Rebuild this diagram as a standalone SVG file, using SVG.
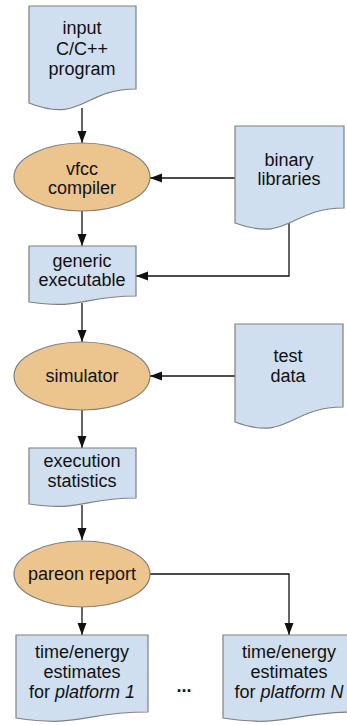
<svg xmlns="http://www.w3.org/2000/svg" width="347" height="725" viewBox="0 0 347 725">
<defs>
<style>
.doc{fill:#cfdff0;stroke:#808080;stroke-width:1.2}
.proc{fill:#ecc48e;stroke:#808080;stroke-width:1.2}
text{font-family:"Liberation Sans",Arial,sans-serif;font-size:18px;fill:#111;text-anchor:middle}
.edge{fill:none;stroke:#111;stroke-width:1.3}
</style>
<marker id="ah" markerUnits="userSpaceOnUse" markerWidth="13" markerHeight="10" refX="12" refY="4.5" orient="auto">
<path d="M0,0 L12,4.5 L0,9 Z" fill="#111"/>
</marker>
</defs>
<rect width="347" height="725" fill="#fff"/>
<g id="connectors">
<path class="edge" d="M82,108 V143" marker-end="url(#ah)"/>
<path class="edge" d="M235,178 H150" marker-end="url(#ah)"/>
<path class="edge" d="M82,211 V246" marker-end="url(#ah)"/>
<path class="edge" d="M289,222 V276 H136" marker-end="url(#ah)"/>
<path class="edge" d="M82,303 V342" marker-end="url(#ah)"/>
<path class="edge" d="M235,376 H150" marker-end="url(#ah)"/>
<path class="edge" d="M82,410 V448" marker-end="url(#ah)"/>
<path class="edge" d="M82,505 V540" marker-end="url(#ah)"/>
<path class="edge" d="M82,607 V635" marker-end="url(#ah)"/>
<path class="edge" d="M150,574 H289 V635" marker-end="url(#ah)"/>
</g>
<g id="input">
<path class="doc" d="M29,6 H136 V89 C82.5,89 82.5,124 29,103 Z"/>
<text x="82" y="34">input</text>
<text x="82" y="55">C/C++</text>
<text x="82" y="75">program</text>
</g>
<g id="vfcc">
<ellipse class="proc" cx="82" cy="177" rx="68" ry="34"/>
<text x="82" y="175">vfcc</text>
<text x="82" y="194">compiler</text>
</g>
<g id="binary">
<path class="doc" d="M235,126 H344 V208 C289.5,208 289.5,243 235,223 Z"/>
<text x="289" y="166">binary</text>
<text x="289" y="185">libraries</text>
</g>
<g id="generic">
<path class="doc" d="M29,246 H136 V296 C82.5,296 82.5,310 29,302 Z"/>
<text x="82" y="267">generic</text>
<text x="82" y="286">executable</text>
</g>
<g id="simulator">
<ellipse class="proc" cx="82" cy="376" rx="68" ry="34"/>
<text x="82" y="382">simulator</text>
</g>
<g id="testdata">
<path class="doc" d="M235,324 H343 V407 C289,407 289,442 235,422 Z"/>
<text x="288" y="362">test</text>
<text x="288" y="382">data</text>
</g>
<g id="stats">
<path class="doc" d="M29,448 H136 V498 C82.5,498 82.5,512 29,504 Z"/>
<text x="82" y="467">execution</text>
<text x="82" y="487">statistics</text>
</g>
<g id="pareon">
<ellipse class="proc" cx="82" cy="574" rx="68" ry="33"/>
<text x="82" y="580">pareon report</text>
</g>
<g id="platform1">
<path class="doc" d="M16,635 H148 V712 C82,712 82,728 16,718 Z"/>
<text x="82" y="658">time/energy</text>
<text x="82" y="678">estimates</text>
<text x="82" y="698">for <tspan font-style="italic">platform 1</tspan></text>
</g>
<g id="dots">
<text x="184" y="692" font-weight="bold">...</text>
</g>
<g id="platformN">
<path class="doc" d="M223,635 H356 V712 C289,712 289,728 223,718 Z"/>
<text x="289" y="658">time/energy</text>
<text x="289" y="678">estimates</text>
<text x="289" y="698">for <tspan font-style="italic">platform N</tspan></text>
</g>
</svg>
